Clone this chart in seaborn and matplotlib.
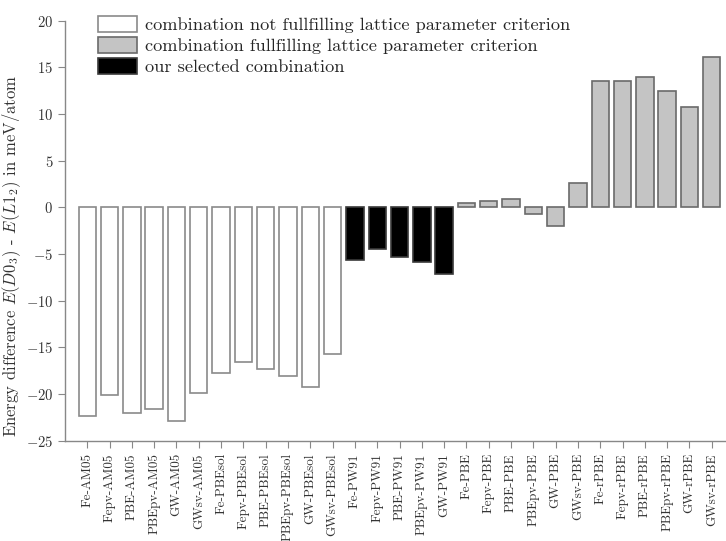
import matplotlib
matplotlib.use("Agg")
import matplotlib.pyplot as plt
import seaborn as sns
import pandas as pd
from matplotlib.patches import Patch

names = ["Fe-AM05", "Fepv-AM05", "PBE-AM05", "PBEpv-AM05", "GW-AM05", "GWsv-AM05",
         "Fe-PBEsol", "Fepv-PBEsol", "PBE-PBEsol", "PBEpv-PBEsol", "GW-PBEsol", "GWsv-PBEsol",
         "Fe-PW91", "Fepv-PW91", "PBE-PW91", "PBEpv-PW91", "GW-PW91",
         "Fe-PBE", "Fepv-PBE", "PBE-PBE", "PBEpv-PBE", "GW-PBE", "GWsv-PBE",
         "Fe-rPBE", "Fepv-rPBE", "PBE-rPBE", "PBEpv-rPBE", "GW-rPBE", "GWsv-rPBE"]
values = [-22.4, -20.1, -22.0, -21.6, -22.9, -19.9,
          -17.8, -16.6, -17.3, -18.1, -19.3, -15.7,
          -5.6, -4.45, -5.3, -5.9, -7.1,
          0.45, 0.65, 0.93, -0.7, -2.03, 2.6,
          13.55, 13.55, 14.0, 12.45, 10.8, 16.15]
groups = (["not"] * 12 + ["sel"] * 5 + ["ok"] * 12)
legend_labels = ["combination not fullfilling lattice parameter criterion",
                 "combination fullfilling lattice parameter criterion",
                 "our selected combination"]

df = pd.DataFrame({"name": names, "value": values, "group": groups})

sns.set_style("white")
plt.rcParams["font.family"] = ["cmr10", "DejaVu Serif"]
plt.rcParams["mathtext.fontset"] = "cm"
plt.rcParams["axes.unicode_minus"] = False
plt.rcParams["axes.formatter.use_mathtext"] = True

fills = {"not": "#ffffff", "ok": "#c4c4c4", "sel": "#000000"}
edges = {"not": "#8a8a8a", "ok": "#6a6a6a", "sel": "#3a3a3a"}

fig = plt.figure(figsize=(7.26, 5.41), dpi=100)
ax = fig.add_axes([0.0895, 0.1855, 0.9105, 0.7762])

sns.barplot(data=df, x="name", y="value", hue="group", palette=fills,
            dodge=False, width=0.78, legend=False, ax=ax, order=names,
            hue_order=["not", "ok", "sel"], linewidth=1.2)

for p in ax.patches:
    fc = matplotlib.colors.to_hex(p.get_facecolor())
    if fc == "#ffffff":
        p.set_edgecolor(edges["not"])
    elif fc == "#000000":
        p.set_edgecolor(edges["sel"])
    else:
        p.set_edgecolor(edges["ok"])

ax.set_xlim(-1, 28.64)
ax.set_ylim(-25, 20)
ax.set_yticks([-25, -20, -15, -10, -5, 0, 5, 10, 15, 20])
ax.set_xlabel("")
ax.set_ylabel(r"Energy difference $E(D0_3)$ - $E(L1_2)$ in meV/atom", fontsize=12, color="#333333")
ax.yaxis.set_label_coords(-0.064, 0.44)
ax.tick_params(axis="x", rotation=90, labelsize=9.5, length=5, width=0.8, color="#888888", direction="out", pad=4, bottom=True)
ax.tick_params(axis="y", labelsize=10.5, length=5, width=0.8, color="#888888", direction="out", left=True)
for lab in ax.get_xticklabels():
    lab.set_color("#333333")
for lab in ax.get_yticklabels():
    lab.set_color("#333333")
sns.despine(ax=ax, top=True, right=True)
for s in ["left", "bottom"]:
    ax.spines[s].set_color("#888888")
    ax.spines[s].set_linewidth(1.0)

handles = [Patch(facecolor=fills[k], edgecolor=edges[k], linewidth=1.2) for k in ["not", "ok", "sel"]]
fig.legend(handles, legend_labels, loc="upper left", bbox_to_anchor=(0.135, 0.970),
           frameon=False, fontsize=13.2, handlelength=2.12, handleheight=0.92,
           labelspacing=0.22, handletextpad=0.47, borderaxespad=0, borderpad=0)

fig.savefig("out.png", dpi=100)
